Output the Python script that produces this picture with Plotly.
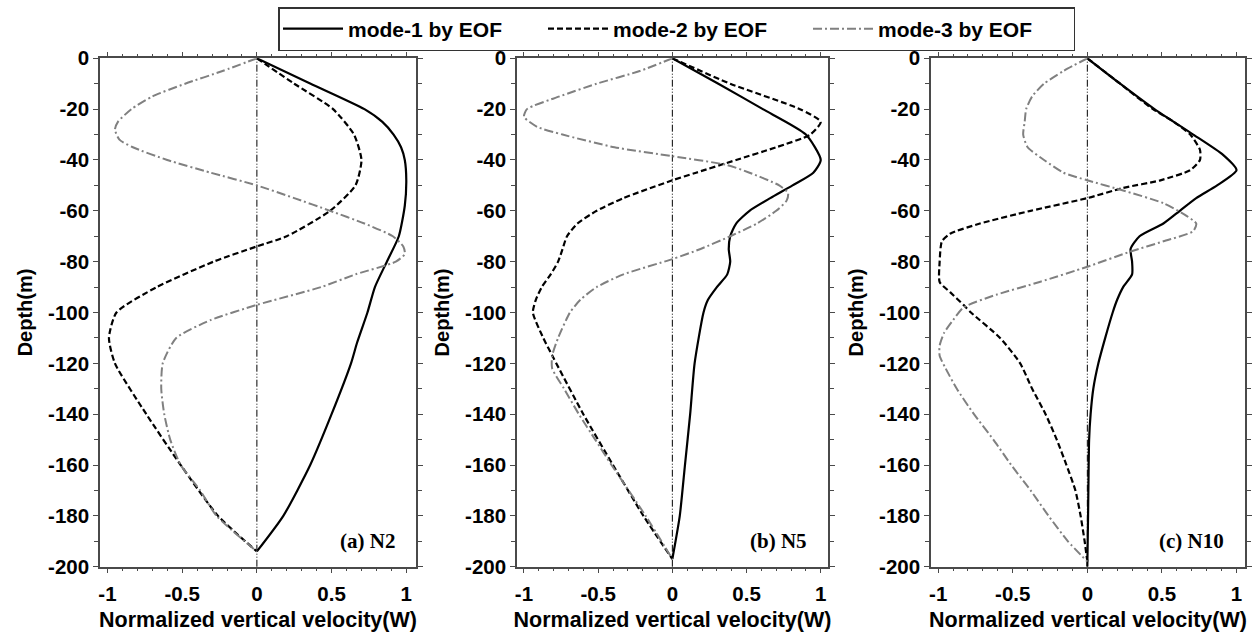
import plotly.graph_objects as go

# ---------------- data ----------------
# Panel (a) N2
A_M1_DEPTH = [0, -10, -20, -25, -30, -35, -40, -48, -58, -70, -80, -90, -100, -112, -120, -140, -160, -180, -194]
A_M1 = [0, 0.36, 0.72, 0.84, 0.915, 0.965, 0.99, 1.0, 0.99, 0.95, 0.87, 0.79, 0.74, 0.67, 0.63, 0.50, 0.357, 0.177, 0]

A_M2_DEPTH = [0, -10, -20, -30, -40, -50, -60, -70, -74, -80, -90, -100, -110, -120, -140, -160, -180, -194]
A_M2 = [0, 0.25, 0.51, 0.65, 0.70, 0.66, 0.49, 0.20, 0, -0.29, -0.67, -0.94, -0.99, -0.95, -0.74, -0.51, -0.26, 0]

A_M3_DEPTH = [0, -5, -10, -15, -20, -25, -28, -32, -35, -40, -45, -50, -55, -60, -65, -70, -74, -77,
              -80, -85, -90, -97, -103, -110, -120, -130, -140, -150, -160, -170, -180, -194]
A_M3 = [0, -0.23, -0.48, -0.70, -0.84, -0.93, -0.95, -0.92, -0.83, -0.60, -0.31, 0, 0.25, 0.49, 0.72, 0.91,
        0.98, 0.99, 0.93, 0.66, 0.43, 0, -0.31, -0.54, -0.63, -0.64, -0.62, -0.58, -0.51, -0.38, -0.27, 0]

# Panel (b) N5
B_M1_DEPTH = [0, -10, -20, -30, -40, -45, -50, -55, -60, -65, -70, -75, -80, -85, -90, -95, -100,
              -120, -140, -160, -180, -197]
B_M1 = [0, 0.31, 0.61, 0.90, 1.0, 0.95, 0.81, 0.66, 0.52, 0.43, 0.39, 0.38, 0.39, 0.37, 0.30, 0.24, 0.21,
        0.15, 0.12, 0.085, 0.05, 0]

B_M2_DEPTH = [0, -10, -20, -25, -30, -35, -40, -45, -48, -55, -60, -65, -70, -75, -80, -85, -90, -95,
              -100, -110, -118, -140, -160, -180, -197]
B_M2 = [0, 0.39, 0.86, 1.0, 0.93, 0.70, 0.43, 0.16, 0, -0.33, -0.51, -0.64, -0.71, -0.74, -0.77, -0.82,
        -0.88, -0.92, -0.94, -0.87, -0.80, -0.60, -0.40, -0.195, 0]

B_M3_DEPTH = [0, -5, -10, -15, -20, -23, -27, -30, -35, -38.5, -42, -45, -50, -53, -56, -60, -65, -70,
              -75, -79, -85, -90, -95, -100, -110, -117, -122, -130, -140, -150, -160, -180, -197]
B_M3 = [0, -0.22, -0.51, -0.76, -0.98, -1.0, -0.91, -0.74, -0.39, 0, 0.37, 0.52, 0.72, 0.78, 0.77, 0.70,
        0.57, 0.39, 0.19, 0, -0.33, -0.51, -0.62, -0.69, -0.77, -0.81, -0.81, -0.73, -0.63, -0.52, -0.41,
        -0.18, 0]

# Panel (c) N10
C_M1_DEPTH = [0, -10, -20, -30, -38, -44, -50, -55, -60, -65, -70, -75, -80, -85, -90, -95, -100,
              -110, -120, -130, -140, -150, -160, -180, -200]
C_M1 = [0, 0.22, 0.45, 0.71, 0.91, 1.0, 0.87, 0.73, 0.62, 0.51, 0.35, 0.29, 0.30, 0.30, 0.24, 0.20, 0.17,
        0.12, 0.074, 0.04, 0.022, 0.012, 0.009, 0.005, 0]

C_M2_DEPTH = [0, -10, -20, -25, -30, -36, -40, -44, -48, -51, -55, -60, -65, -69, -72, -80, -88, -92,
              -97, -100, -110, -120, -130, -140, -150, -160, -170, -180, -190, -198]
C_M2 = [0, 0.22, 0.44, 0.58, 0.69, 0.755, 0.755, 0.69, 0.49, 0.24, 0, -0.38, -0.72, -0.92, -0.975, -0.99,
        -0.99, -0.92, -0.83, -0.78, -0.585, -0.45, -0.37, -0.28, -0.205, -0.14, -0.08, -0.045, -0.018, 0]

C_M3_DEPTH = [0, -5, -10, -15, -20, -25, -30, -35, -40, -45, -48, -52, -57, -62, -65, -68, -72, -76,
              -82, -88, -93, -98, -103, -108, -113, -117, -122, -130, -140, -150, -160, -170, -180, -190, -198]
C_M3 = [0, -0.16, -0.29, -0.37, -0.41, -0.42, -0.43, -0.40, -0.29, -0.16, 0, 0.24, 0.51, 0.665, 0.73, 0.71,
        0.51, 0.29, 0, -0.32, -0.61, -0.83, -0.90, -0.96, -0.99, -0.99, -0.95, -0.875, -0.76, -0.63, -0.51,
        -0.38, -0.26, -0.13, 0]

SERIES_NAMES = ["mode-1 by EOF", "mode-2 by EOF", "mode-3 by EOF"]
PANEL_LABELS = ["(a) N2", "(b) N5", "(c) N10"]
X_TICKS = [-1, -0.5, 0, 0.5, 1]
X_TICKTEXT = ["-1", "-0.5", "0", "0.5", "1"]
Y_TICKS = [0, -20, -40, -60, -80, -100, -120, -140, -160, -180, -200]
Y_TICKTEXT = ["0", "-20", "-40", "-60", "-80", "-100", "-120", "-140", "-160", "-180", "-200"]
X_TITLE = "Normalized vertical velocity(W)"
Y_TITLE = "Depth(m)"

PANELS = [
    [(A_M1, A_M1_DEPTH), (A_M2, A_M2_DEPTH), (A_M3, A_M3_DEPTH)],
    [(B_M1, B_M1_DEPTH), (B_M2, B_M2_DEPTH), (B_M3, B_M3_DEPTH)],
    [(C_M1, C_M1_DEPTH), (C_M2, C_M2_DEPTH), (C_M3, C_M3_DEPTH)],
]

# ---------------- styling ----------------
W, H = 1253, 637
SANS = "Liberation Sans, Arial, sans-serif"
SERIF = "Liberation Serif, Times New Roman, serif"
LINE_STYLES = [
    dict(color="black", width=2.2, dash="solid"),
    dict(color="black", width=2.2, dash="6px,3px"),
    dict(color="#808080", width=2.0, dash="9px,3px,2px,3px"),
]
X_DOMAINS = [(100 / W, 416 / W), (517 / W, 828 / W), (931 / W, 1245 / W)]
X_RANGES = [(-1.05, 1.065), (-1.047, 1.049), (-1.048, 1.057)]
Y_DOMAIN = (1 - 566.7 / H, 1 - 58.3 / H)
FRAME = "#4a4a4a"

fig = go.Figure()

for p, panel in enumerate(PANELS):
    xa = "x" if p == 0 else f"x{p + 1}"
    ya = "y" if p == 0 else f"y{p + 1}"
    for s, (vals, depth) in enumerate(panel):
        fig.add_trace(go.Scatter(
            x=vals, y=depth, mode="lines", name=SERIES_NAMES[s],
            line=dict(shape="spline", smoothing=0.6, **LINE_STYLES[s]),
            xaxis=xa, yaxis=ya, showlegend=(p == 0), legendgroup=SERIES_NAMES[s],
        ))
    # zero reference line
    fig.add_shape(type="line", xref=xa, yref=f"{ya} domain", x0=0, x1=0, y0=0, y1=1,
                  line=dict(color="black", width=1, dash="7px,2px,1px,2px,1px,2px"), layer="below")
    fig.add_annotation(text=f"<b>{PANEL_LABELS[p]}</b>", xref=f"{xa} domain", yref=f"{ya} domain",
                       x=0.94, y=0.05, xanchor="right", yanchor="middle", showarrow=False,
                       font=dict(family=SERIF, size=21, color="black"))

axis_common = dict(
    showline=True, linecolor=FRAME, linewidth=1.5, mirror="ticks",
    ticks="outside", tickcolor=FRAME, ticklen=5, tickwidth=1.2,
    showgrid=False, zeroline=False, automargin=False,
    tickfont=dict(family=SANS, size=20.5, color="black", weight="bold"),
)

layout = dict(
    width=W, height=H, autosize=False,
    margin=dict(l=0, r=0, t=0, b=0, autoexpand=False),
    paper_bgcolor="white", plot_bgcolor="white",
    font=dict(family=SANS, color="black"),
    showlegend=True,
    legend=dict(
        orientation="h", x=278 / W, y=1 - 7 / H, xanchor="left", yanchor="top",
        bordercolor="#333333", borderwidth=1.5, bgcolor="white",
        font=dict(family=SANS, size=21, color="black", weight="bold"),
        entrywidth=190, entrywidthmode="pixels", itemwidth=60,
    ),
)

for p in range(3):
    xk = "xaxis" if p == 0 else f"xaxis{p + 1}"
    yk = "yaxis" if p == 0 else f"yaxis{p + 1}"
    ya = "y" if p == 0 else f"y{p + 1}"
    xa = "x" if p == 0 else f"x{p + 1}"
    layout[xk] = dict(
        axis_common, domain=list(X_DOMAINS[p]), range=list(X_RANGES[p]), anchor=ya,
        tickmode="array", tickvals=X_TICKS, ticktext=X_TICKTEXT, ticklabelstandoff=3,
        minor=dict(dtick=0.1, tick0=0, ticks="outside", ticklen=3, tickcolor=FRAME),
        title=dict(text=X_TITLE, font=dict(family=SANS, size=21.5, color="black", weight="bold"), standoff=8),
    )
    layout[yk] = dict(
        axis_common, domain=list(Y_DOMAIN), range=[-200, 0], anchor=xa,
        tickmode="array", tickvals=Y_TICKS, ticktext=Y_TICKTEXT,
        minor=dict(dtick=10, tick0=0, ticks="outside", ticklen=4, tickcolor=FRAME),
        title=dict(text=Y_TITLE, font=dict(family=SANS, size=20, color="black", weight="bold"), standoff=10),
    )

fig.update_layout(**layout)
fig.write_html("out.html")
